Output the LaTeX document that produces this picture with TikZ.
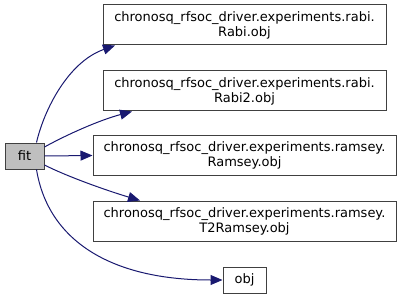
\documentclass[tikz,border=0pt]{standalone}
\usepackage{fontspec}
\setmainfont{DejaVu Sans}
\usetikzlibrary{arrows.meta}
\definecolor{edgeblue}{HTML}{191970}
\definecolor{fitgray}{HTML}{BFBFBF}
\begin{document}
\begin{tikzpicture}[x=1pt,y=-1pt,
  box/.style={draw=black!75,line width=1pt,inner sep=0pt,align=center,font=\fontsize{13}{15}\selectfont},
  edge/.style={draw=edgeblue,line width=1pt,-{Triangle[length=12pt,width=10pt,fill=edgeblue]}}]
\useasboundingbox (0,0) rectangle (403,299);
\node[box,fill=fitgray,minimum width=39pt,minimum height=26pt] (fit) at (24.5,156) {fit};
\node[box,fill=white,minimum width=283pt,minimum height=40pt] (rabi) at (244.5,25) {chronosq\_rfsoc\_driver.experiments.rabi.\\Rabi.obj};
\node[box,fill=white,minimum width=283pt,minimum height=40pt] (rabi2) at (244.5,91) {chronosq\_rfsoc\_driver.experiments.rabi.\\Rabi2.obj};
\node[box,fill=white,minimum width=303pt,minimum height=40pt] (ramsey) at (244.5,155.5) {chronosq\_rfsoc\_driver.experiments.ramsey.\\Ramsey.obj};
\node[box,fill=white,minimum width=303pt,minimum height=40pt] (t2) at (244.5,221) {chronosq\_rfsoc\_driver.experiments.ramsey.\\T2Ramsey.obj};
\node[box,fill=white,minimum width=43pt,minimum height=26pt] (obj) at (244.5,280) {obj};
\coordinate (r1) at (115,45);
\coordinate (r2) at (132,111);
\coordinate (t2e) at (140,201);
\draw[edge] (fit.north east) ++(-8,0) .. controls (44,110) and (68,62) .. (rabi.south west -| r1);
\draw[edge] (fit.east) ++(0,-9) .. controls (68,134) and (100,120) .. (rabi2.south west -| r2);
\draw[edge] (fit.east) -- (ramsey.west);
\draw[edge] (fit.east) ++(0,9) .. controls (66,176) and (105,190) .. (t2.north west -| t2e);
\draw[edge] (fit.south east) ++(-8,0) .. controls (48,240) and (110,280) .. (obj.west);
\end{tikzpicture}
\end{document}
